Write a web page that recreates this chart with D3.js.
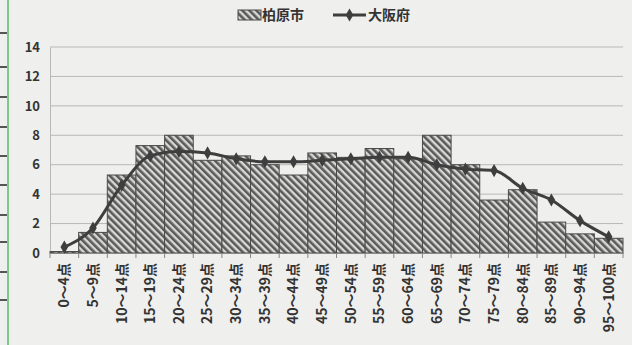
<!DOCTYPE html>
<html>
<head>
<meta charset="utf-8">
<script src="https://cdn.jsdelivr.net/npm/d3@7"></script>
<style>
  body { margin: 0; background: #efefed; }
  svg { display: block; }
  text { font-family: "Noto Sans CJK JP", "Noto Sans", sans-serif; fill: #333; }
</style>
</head>
<body>
<div id="chart"></div>
<script>
// 得点分布（%）
var categories = ["0～4点", "5～9点", "10～14点", "15～19点", "20～24点", "25～29点", "30～34点",
    "35～39点", "40～44点", "45～49点", "50～54点", "55～59点", "60～64点", "65～69点",
    "70～74点", "75～79点", "80～84点", "85～89点", "90～94点", "95～100点"];
var kashiwara = [0.1, 1.4, 5.3, 7.3, 8.0, 6.3, 6.6, 6.0, 5.3, 6.8, 6.5, 7.1, 6.4, 8.0, 6.0, 3.6, 4.3, 2.1, 1.3, 1.0];
var osaka = [0.4, 1.7, 4.6, 6.6, 6.9, 6.8, 6.4, 6.2, 6.2, 6.3, 6.4, 6.5, 6.5, 6.0, 5.7, 5.6, 4.4, 3.6, 2.2, 1.1];
var yTicks = [0, 2, 4, 6, 8, 10, 12, 14];
var seriesNames = ["柏原市", "大阪府"];

var svgWidth = 632;
var svgHeight = 345;
var margin = { top: 47, right: 9, bottom: 92, left: 50 };
var width = svgWidth - margin.left - margin.right;
var height = svgHeight - margin.top - margin.bottom;

var svg = d3.select("#chart")
    .append("svg")
    .attr("width", svgWidth)
    .attr("height", svgHeight);

// hatch pattern for bars
var defs = svg.append("defs");
var pat = defs.append("pattern")
    .attr("id", "hatch")
    .attr("patternUnits", "userSpaceOnUse")
    .attr("width", 5)
    .attr("height", 5)
    .attr("patternTransform", "rotate(-45)");
pat.append("rect").attr("width", 5).attr("height", 5).attr("fill", "#d8d8d6");
pat.append("rect").attr("width", 2.6).attr("height", 5).attr("fill", "#5a5a5a");

// scan artefacts at left edge
svg.append("line")
    .attr("x1", 8).attr("x2", 8).attr("y1", 0).attr("y2", svgHeight)
    .attr("stroke", "#7cc98a").attr("stroke-width", 2);
[33, 67, 97, 127, 156, 185, 215, 242, 272, 300].forEach(function(y) {
    svg.append("line")
        .attr("x1", 0).attr("x2", 7).attr("y1", y).attr("y2", y)
        .attr("stroke", "#222").attr("stroke-width", 1.5);
});

var chartGroup = svg.append("g")
    .attr("transform", `translate(${margin.left}, ${margin.top})`);

var xScale = d3.scaleBand()
    .domain(categories)
    .range([0, width])
    .padding(0);

var yScale = d3.scaleLinear()
    .domain([0, 14])
    .range([height, 0]);

// gridlines
chartGroup.append("g")
    .selectAll("line")
    .data(yTicks)
    .enter()
    .append("line")
    .attr("x1", 0)
    .attr("x2", width)
    .attr("y1", d => yScale(d))
    .attr("y2", d => yScale(d))
    .attr("stroke", "#b8b8b6")
    .attr("stroke-width", 1);

// y axis
var leftAxis = d3.axisLeft(yScale).tickValues(yTicks).tickSize(0).tickPadding(10);
var yAxis = chartGroup.append("g").call(leftAxis);
yAxis.select(".domain").attr("stroke", "#b8b8b6");
yAxis.selectAll("text")
    .style("font-size", "13px")
    .style("font-weight", "bold")
    .attr("fill", "#333");

// bars
chartGroup.append("g")
    .selectAll("rect")
    .data(kashiwara)
    .enter()
    .append("rect")
    .attr("x", (d, i) => xScale(categories[i]))
    .attr("y", d => yScale(d))
    .attr("width", xScale.bandwidth())
    .attr("height", d => height - yScale(d))
    .attr("fill", "url(#hatch)")
    .attr("stroke", "#4a4a4a")
    .attr("stroke-width", 1);

// x axis
var bottomAxis = d3.axisBottom(xScale).tickSize(0).tickPadding(8);
var xAxis = chartGroup.append("g")
    .attr("transform", `translate(0, ${height})`)
    .call(bottomAxis);
xAxis.select(".domain").attr("stroke", "#888");
xAxis.selectAll("text")
    .style("font-size", "14px")
    .style("font-weight", "600")
    .attr("fill", "#333")
    .attr("transform", "rotate(-90)")
    .attr("text-anchor", "end")
    .attr("dy", "0.35em")
    .attr("x", -10)
    .attr("y", 0);
// category separators
chartGroup.append("g")
    .selectAll("line")
    .data(d3.range(categories.length + 1))
    .enter()
    .append("line")
    .attr("x1", i => i * xScale.step())
    .attr("x2", i => i * xScale.step())
    .attr("y1", height)
    .attr("y2", height + 5)
    .attr("stroke", "#888");

// osaka line
var line = d3.line()
    .x((d, i) => xScale(categories[i]) + xScale.bandwidth() / 2)
    .y(d => yScale(d))
    .curve(d3.curveMonotoneX);

chartGroup.append("path")
    .datum(osaka)
    .attr("d", line)
    .attr("fill", "none")
    .attr("stroke", "#3e3e3e")
    .attr("stroke-width", 3);

var diamond = d3.symbol().type(d3.symbolDiamond).size(50);
chartGroup.append("g")
    .selectAll("path")
    .data(osaka)
    .enter()
    .append("path")
    .attr("d", diamond)
    .attr("transform", (d, i) => `translate(${xScale(categories[i]) + xScale.bandwidth() / 2}, ${yScale(d)})`)
    .attr("fill", "#3e3e3e");

// legend
var legend = svg.append("g").attr("transform", "translate(238, 15)");
legend.append("rect")
    .attr("x", 0).attr("y", -5).attr("width", 23).attr("height", 10)
    .attr("fill", "url(#hatch)")
    .attr("stroke", "#4a4a4a");
legend.append("text")
    .attr("x", 24).attr("y", 0).attr("dy", "0.35em")
    .style("font-size", "14px").style("font-weight", "bold")
    .text(seriesNames[0]);
legend.append("line")
    .attr("x1", 95).attr("x2", 128).attr("y1", 0).attr("y2", 0)
    .attr("stroke", "#3e3e3e").attr("stroke-width", 3);
legend.append("path")
    .attr("d", diamond)
    .attr("transform", "translate(111.5, 0)")
    .attr("fill", "#3e3e3e");
legend.append("text")
    .attr("x", 130).attr("y", 0).attr("dy", "0.35em")
    .style("font-size", "14px").style("font-weight", "bold")
    .text(seriesNames[1]);
</script>
</body>
</html>
